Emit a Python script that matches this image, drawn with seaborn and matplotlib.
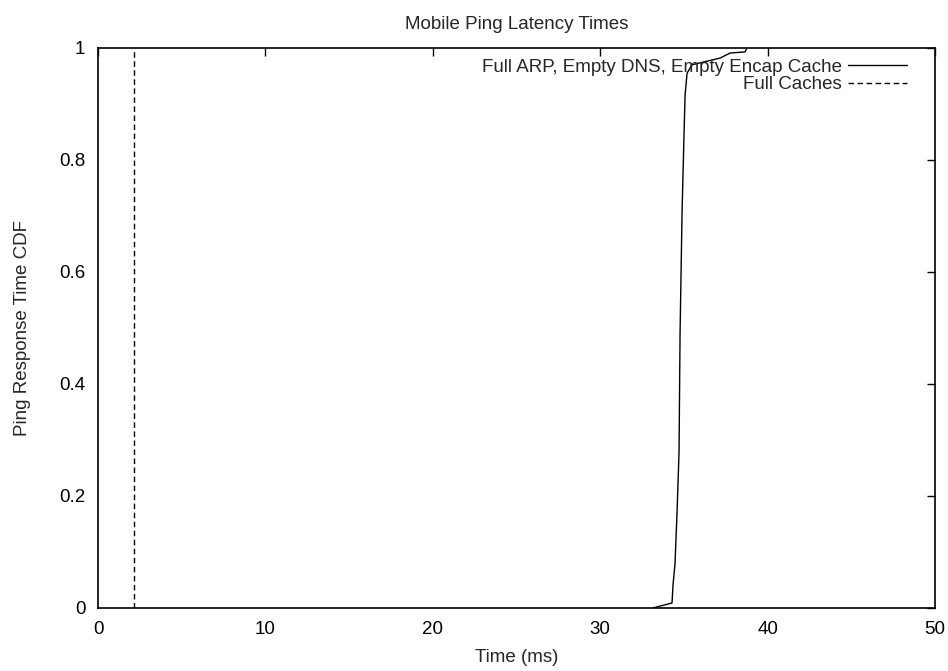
import numpy as np
import pandas as pd
import matplotlib
matplotlib.use("Agg")
import matplotlib.pyplot as plt
import seaborn as sns

# CDF points (time in ms, cumulative fraction)
arp_time = [33.15, 34.29, 34.35, 34.47, 34.59, 34.71, 34.77, 34.89, 35.01, 35.07,
            35.19, 35.48, 37.16, 37.76, 38.65, 38.77]
arp_cdf = [0.0, 0.009, 0.041, 0.080, 0.170, 0.279, 0.489, 0.707, 0.848, 0.916,
           0.955, 0.970, 0.982, 0.991, 0.993, 1.0]

full_time = [2.15, 2.15]
full_cdf = [0.0, 1.0]

labels = ["Full ARP, Empty DNS, Empty Encap Cache", "Full Caches"]

sns.set_style("white")
plt.rcParams['font.family'] = ['Liberation Sans', 'DejaVu Sans']
fs = 13.5

fig = plt.figure(figsize=(9.48, 6.71), dpi=100)
ax = fig.add_axes([98 / 948, 1 - 608 / 671, (935 - 98) / 948, (608 - 48) / 671])

df1 = pd.DataFrame({"t": arp_time, "p": arp_cdf})
df2 = pd.DataFrame({"t": full_time, "p": full_cdf})
sns.lineplot(data=df1, x="t", y="p", ax=ax, color="black", lw=1.0,
             estimator=None, sort=False, label=labels[0])
sns.lineplot(data=df2, x="t", y="p", ax=ax, color="black", lw=1.0,
             estimator=None, sort=False, label=labels[1], linestyle=(0, (4, 2.5)))

ax.set_xlim(0, 50)
ax.set_ylim(0, 1)
ax.set_xticks([0, 10, 20, 30, 40, 50])
ax.set_yticks([0, 0.2, 0.4, 0.6, 0.8, 1.0])
ax.set_yticklabels(["0", "0.2", "0.4", "0.6", "0.8", "1"])
ax.tick_params(direction="in", length=6, width=1, top=True, right=True,
               labelsize=fs, pad=9, colors="black")
for s in ax.spines.values():
    s.set_visible(True)
    s.set_color("black")
    s.set_linewidth(1.2)

ax.set_xlabel("Time (ms)", fontsize=fs, labelpad=8)
ax.set_ylabel("Ping Response Time CDF", fontsize=fs, labelpad=20)
ax.set_title("Mobile Ping Latency Times", fontsize=fs, pad=14)

ax.legend(loc="upper right", bbox_to_anchor=(0.9665, 0.9806), frameon=False,
          markerfirst=False, fontsize=fs, handlelength=3.15, handletextpad=0.32,
          borderaxespad=0, borderpad=0, labelspacing=0.02)

fig.savefig("out.png", dpi=100)
